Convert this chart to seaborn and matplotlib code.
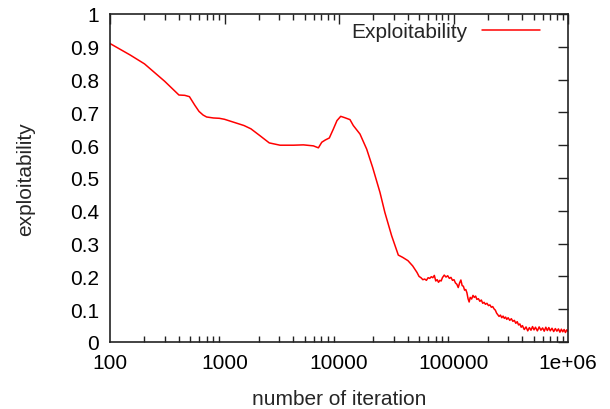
import matplotlib
matplotlib.use("Agg")
import matplotlib.pyplot as plt
import seaborn as sns
import pandas as pd
from matplotlib.ticker import FixedLocator, FixedFormatter, LogLocator, NullFormatter

# ---- data ----
iter_head = [100, 150, 200, 300, 400, 450, 494, 550, 599, 650, 698, 800, 902, 1000,
             1200, 1479, 1700, 2040, 2460, 3055, 4000, 4890, 5970, 6610, 7070, 7600,
             8230, 8920, 9600, 10350, 11200, 12470, 13330, 15250, 17450, 19680, 22800,
             25150, 28820, 32960, 36000]
expl_head = [0.910, 0.875, 0.848, 0.795, 0.753, 0.752, 0.748, 0.722, 0.703, 0.692, 0.686,
             0.683, 0.682, 0.679, 0.670, 0.660, 0.650, 0.629, 0.607, 0.600, 0.600, 0.601,
             0.598, 0.592, 0.609, 0.616, 0.622, 0.649, 0.675, 0.688, 0.684, 0.678, 0.660,
             0.634, 0.588, 0.532, 0.456, 0.395, 0.324, 0.265, 0.258]

iter_tail = [40000, 42000, 44000, 46000, 48000, 50000, 52000, 54000, 56000, 58000, 60000,
             62000, 64000, 66000, 68000, 70000, 72000, 74000, 76000, 78000, 80000, 83000,
             86000, 89000, 92000, 95000, 98000, 101000, 104000, 107000, 110000, 113000,
             116000, 119000, 122000, 125000, 128000, 131000, 134000, 137000, 140000,
             144000, 148000, 152000, 156000, 160000, 165000, 170000, 175000, 180000,
             185000, 190000, 196000, 202000, 208000, 214000, 220000, 226000, 232000,
             238000, 244000, 250000, 257000, 264000, 271000, 278000, 285000, 292000,
             300000, 310000, 320000, 330000, 340000, 350000, 360000, 370000, 380000,
             390000, 400000, 415000, 430000, 445000, 460000, 475000, 490000, 505000,
             520000, 540000, 560000, 580000, 600000, 620000, 640000, 660000, 680000,
             700000, 725000, 750000, 775000, 800000, 825000, 850000, 875000, 900000,
             925000, 950000, 975000, 1000000]
expl_tail = [0.248, 0.240, 0.232, 0.222, 0.212, 0.200, 0.196, 0.190, 0.192, 0.188, 0.196,
             0.194, 0.199, 0.196, 0.203, 0.186, 0.190, 0.182, 0.188, 0.186, 0.196, 0.204,
             0.198, 0.202, 0.194, 0.197, 0.188, 0.190, 0.180, 0.176, 0.166, 0.180,
             0.189, 0.172, 0.170, 0.158, 0.160, 0.150, 0.132, 0.122, 0.136,
             0.131, 0.142, 0.136, 0.140, 0.130, 0.132, 0.124, 0.128, 0.118,
             0.121, 0.115, 0.118, 0.111, 0.113, 0.106, 0.108, 0.101, 0.097,
             0.088, 0.083, 0.078, 0.082, 0.074, 0.079, 0.072, 0.076, 0.069,
             0.074, 0.066, 0.071, 0.063, 0.066, 0.057, 0.062, 0.052, 0.055,
             0.045, 0.050, 0.038, 0.046, 0.034, 0.044, 0.036, 0.047, 0.037,
             0.045, 0.034, 0.046, 0.036, 0.043, 0.033, 0.045, 0.035, 0.044,
             0.034, 0.042, 0.032, 0.041, 0.033, 0.040, 0.030, 0.039, 0.031,
             0.038, 0.029, 0.037, 0.032]

x_ticks = [100, 1000, 10000, 100000, 1000000]
x_tick_labels = ["100", "1000", "10000", "100000", "1e+06"]
y_ticks = [0, 0.1, 0.2, 0.3, 0.4, 0.5, 0.6, 0.7, 0.8, 0.9, 1.0]
y_tick_labels = ["0", "0.1", "0.2", "0.3", "0.4", "0.5", "0.6", "0.7", "0.8", "0.9", "1"]

df = pd.DataFrame({"iteration": iter_head + iter_tail,
                   "exploitability": expl_head + expl_tail})

# ---- style ----
sns.set_style("white")
plt.rcParams["font.family"] = ["Liberation Sans", "DejaVu Sans"]
plt.rcParams["font.size"] = 15

fig = plt.figure(figsize=(6.1, 4.1), dpi=100)
ax = fig.add_axes([110 / 610, 1 - 343 / 410, 458 / 610, 328 / 410])

sns.lineplot(data=df, x="iteration", y="exploitability", ax=ax, color="#ff0000",
             linewidth=1.1, estimator=None, sort=False, label="Exploitability")

ax.set_xscale("log")
ax.set_xlim(100, 1e6)
ax.set_ylim(0, 1)

ax.xaxis.set_major_locator(FixedLocator(x_ticks))
ax.xaxis.set_major_formatter(FixedFormatter(x_tick_labels))
ax.xaxis.set_minor_locator(LogLocator(base=10, subs=[2, 3, 4, 5, 6, 7, 8, 9], numticks=20))
ax.xaxis.set_minor_formatter(NullFormatter())
ax.yaxis.set_major_locator(FixedLocator(y_ticks))
ax.yaxis.set_major_formatter(FixedFormatter(y_tick_labels))

ax.tick_params(axis="both", which="major", direction="in", length=7, width=1,
               top=True, right=True, labelsize=15, pad=8, colors="#222222",
               labelcolor="black")
ax.tick_params(axis="x", which="minor", direction="in", length=4, width=1,
               top=True, bottom=True, colors="#222222")
for sp in ax.spines.values():
    sp.set_color("#222222")
    sp.set_linewidth(1.2)
    sp.set_visible(True)

ax.set_xlabel("number of iteration", fontsize=15, labelpad=12)
ax.set_ylabel("exploitability", fontsize=15, labelpad=25)

leg = ax.legend(loc="upper right", frameon=False, markerfirst=False, fontsize=15,
                handlelength=2.8, handletextpad=0.7, borderaxespad=0.0,
                bbox_to_anchor=(0.958, 1.0))

fig.savefig("out.png", dpi=100)
